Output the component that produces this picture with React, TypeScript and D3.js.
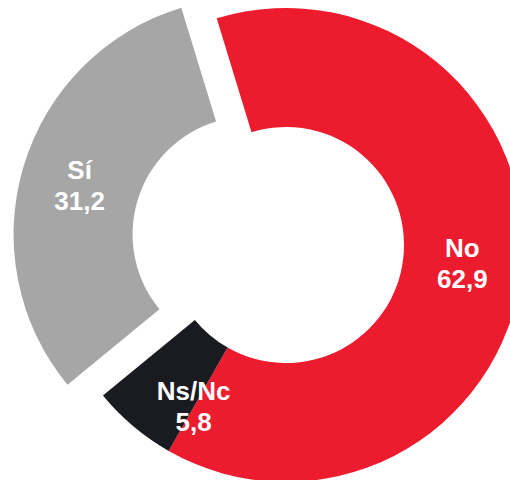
import React from "react";
import * as d3 from "d3";

const categories = ["No", "Ns/Nc", "Sí"];
const values = [62.9, 5.8, 31.2];
const valueLabels = ["62,9", "5,8", "31,2"];
const colors = ["#ED1B2E", "#1A1A21", "#A6A6A6"];
const explode = [0, 0, 37];

export default function App() {
  const width = 510;
  const height = 480;
  const cx = 286;
  const cy = 245;
  const rOuter = 237;
  const rInner = 118;
  const startAngle = (-17 * Math.PI) / 180;

  const pie = d3
    .pie<number>()
    .sort(null)
    .value((d) => d)
    .startAngle(startAngle)
    .endAngle(startAngle + 2 * Math.PI);
  const arcs = pie(values);
  const arcGen = d3.arc<d3.PieArcDatum<number>>().innerRadius(rInner).outerRadius(rOuter);
  const labelArc = d3
    .arc<d3.PieArcDatum<number>>()
    .innerRadius((rInner + rOuter) / 2 + 0)
    .outerRadius((rInner + rOuter) / 2 + 0);

  // label nudges (Excel-style manually placed label for small slice)
  const labelShift: [number, number][] = [
    [0, -1],
    [22, 26],
    [-1, 2],
  ];

  return (
    <svg
      width={width}
      height={height}
      style={{ position: "absolute", left: 0, top: 0, display: "block" }}
    >
      <rect width={width} height={height} fill="#ffffff" />
      <g transform={`translate(${cx},${cy})`}>
        {arcs.map((a, i) => {
          const mid = (a.startAngle + a.endAngle) / 2;
          const ox = Math.sin(mid) * explode[i];
          const oy = -Math.cos(mid) * explode[i];
          const [lx, ly] = labelArc.centroid(a);
          const tx = lx + ox + labelShift[i][0];
          const ty = ly + oy + labelShift[i][1];
          return (
            <g key={categories[i]}>
              <path d={arcGen(a) || ""} fill={colors[i]} transform={`translate(${ox},${oy})`} />
              <text
                x={tx}
                y={ty - 6.5}
                textAnchor="middle"
                fill="#ffffff"
                fontFamily="'Liberation Sans', Arial, sans-serif"
                fontWeight="bold"
                fontSize={26}
              >
                {categories[i]}
              </text>
              <text
                x={tx}
                y={ty + 24.5}
                textAnchor="middle"
                fill="#ffffff"
                fontFamily="'Liberation Sans', Arial, sans-serif"
                fontWeight="bold"
                fontSize={26}
              >
                {valueLabels[i]}
              </text>
            </g>
          );
        })}
      </g>
    </svg>
  );
}
